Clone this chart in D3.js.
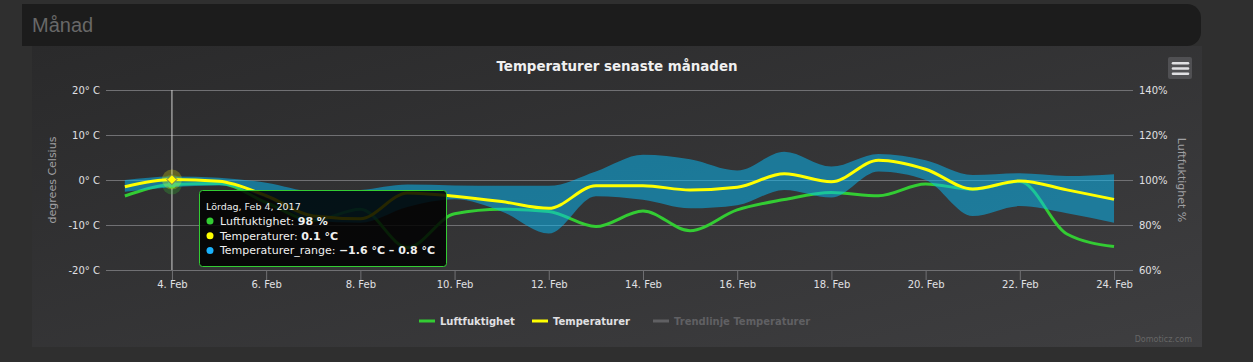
<!DOCTYPE html>
<html>
<head>
<meta charset="utf-8">
<script src="https://cdn.jsdelivr.net/npm/d3@7"></script>
<style>
  body { margin: 0; background: #2f2f2f; }
  svg { display: block; }
</style>
</head>
<body>
<div id="chart"></div>
<script>
// daily values, 3 Feb - 24 Feb 2017
const dates = ["2017-02-03", "2017-02-04", "2017-02-05", "2017-02-06", "2017-02-07", "2017-02-08",
  "2017-02-09", "2017-02-10", "2017-02-11", "2017-02-12", "2017-02-13", "2017-02-14", "2017-02-15",
  "2017-02-16", "2017-02-17", "2017-02-18", "2017-02-19", "2017-02-20", "2017-02-21", "2017-02-22",
  "2017-02-23", "2017-02-24"];
const humidity = [92.9, 98, 98.5, 90, 82, 87, 70, 85, 87, 86, 79.3, 86.2, 77.5, 86.7, 91.3, 94.4,
  93.0, 98.2, 95.9, 99.3, 76, 70.4];
const temperature = [-1.5, 0.1, -0.3, -3.5, -8.0, -8.6, -2.9, -3.6, -4.8, -6.3, -1.3, -1.3, -2.2,
  -1.6, 1.4, -0.4, 4.4, 2.4, -2.0, -0.2, -2.2, -4.3];
const tempLow = [-2.6, -1.6, -1.2, -4.0, -9.0, -9.5, -6.0, -4.3, -7.0, -11.9, -3.6, -4.4, -6.3,
  -5.6, -2.2, -3.9, 1.9, 0.0, -8.0, -5.8, -7.4, -9.5];
const tempHigh = [0.0, 0.8, 0.5, -0.6, -2.5, -2.2, -1.0, -1.2, -1.3, -1.3, 1.9, 5.6, 4.6,
  2.1, 6.3, 3.0, 5.8, 4.4, 1.1, 1.5, 0.9, 1.3];

const tickDates = ["2017-02-04", "2017-02-06", "2017-02-08", "2017-02-10", "2017-02-12", "2017-02-14",
  "2017-02-16", "2017-02-18", "2017-02-20", "2017-02-22", "2017-02-24"];
const tempTicks = [-20, -10, 0, 10, 20];
const humTicks = [60, 80, 100, 120, 140];
const weekdays = ["Söndag", "Måndag", "Tisdag", "Onsdag", "Torsdag", "Fredag", "Lördag"];
const hoverIndex = 1;

const colors = { hum: "#33cc33", temp: "#ffff00", range: "rgba(3,190,252,0.5)", rangeDot: "#1ab2fc" };
const font = "'DejaVu Sans', Verdana, sans-serif";

function fmtTemp(v) {
    return String(v).replace("-", "\u2212") + " °C";
}

function renderChart(containerId) {
    const width = 1253, height = 362;
    const plot = { left: 106, right: 1133, top: 90, bottom: 270 };
    const parse = d3.timeParse("%Y-%m-%d");
    const xs = dates.map(parse);

    const svg = d3.select("#" + containerId).append("svg")
        .attr("width", width)
        .attr("height", height);

    const grad = svg.append("defs").append("linearGradient")
        .attr("id", "bg").attr("x1", 0).attr("y1", 0).attr("x2", 1).attr("y2", 1);
    grad.append("stop").attr("offset", 0).attr("stop-color", "#2a2a2b");
    grad.append("stop").attr("offset", 1).attr("stop-color", "#3e3e40");

    // page header + chart panel
    svg.append("rect").attr("width", width).attr("height", height).attr("fill", "#2f2f2f");
    svg.append("path")
        .attr("d", "M22,4 H1187 A14,14 0 0 1 1201,18 V32 A14,14 0 0 1 1187,46 H22 Z")
        .attr("fill", "#1c1c1c");
    svg.append("text").attr("x", 32).attr("y", 32).text("Månad")
        .attr("fill", "#686868").style("font", "20px 'Liberation Sans', Arial, sans-serif");
    svg.append("rect").attr("x", 32).attr("y", 46).attr("width", 1170).attr("height", 301)
        .attr("fill", "url(#bg)");

    svg.append("text").attr("x", 617).attr("y", 71).attr("text-anchor", "middle")
        .text("Temperaturer senaste månaden")
        .attr("fill", "#F0F0F0")
        .style("font", "bold 13.4px " + font);

    // context menu button
    svg.append("rect").attr("x", 1168).attr("y", 57).attr("width", 24).attr("height", 22)
        .attr("rx", 2).attr("fill", "#505053");
    [63.3, 68.5, 73.7].forEach(y => {
        svg.append("line").attr("x1", 1173).attr("x2", 1188).attr("y1", y).attr("y2", y)
            .attr("stroke", "#E0E0E3").attr("stroke-width", 2.6).attr("stroke-linecap", "round");
    });

    const x = d3.scaleTime()
        .domain([new Date(2017, 1, 2, 14, 24), new Date(2017, 1, 24, 9, 40)])
        .range([plot.left, plot.right]);
    const yT = d3.scaleLinear().domain([-20, 20]).range([plot.bottom, plot.top]);
    const yH = d3.scaleLinear().domain([60, 140]).range([plot.bottom, plot.top]);

    const gy = svg.append("g")
        .attr("transform", `translate(${plot.left},0)`)
        .call(d3.axisLeft(yT).tickValues(tempTicks).tickSize(-(plot.right - plot.left))
            .tickPadding(6).tickFormat(d => d + "° C"));
    gy.select(".domain").remove();
    gy.selectAll("line").attr("stroke", "#707073");
    gy.selectAll("text").attr("fill", "#E0E0E3").style("font", "10px " + font);

    const gyr = svg.append("g")
        .attr("transform", `translate(${plot.right},0)`)
        .call(d3.axisRight(yH).tickValues(humTicks).tickSize(0).tickPadding(6).tickFormat(d => d + "%"));
    gyr.select(".domain").remove();
    gyr.selectAll("text").attr("fill", "#E0E0E3").style("font", "10px " + font);

    const gx = svg.append("g")
        .attr("transform", `translate(0,${plot.bottom})`)
        .call(d3.axisBottom(x).tickValues(tickDates.map(parse)).tickSize(10).tickPadding(1)
            .tickFormat(d3.timeFormat("%-d. %b")));
    gx.select(".domain").remove();
    gx.selectAll("line").attr("stroke", "#707073");
    gx.selectAll("text").attr("fill", "#E0E0E3").style("font", "10px " + font);

    svg.append("text")
        .attr("transform", "translate(56,180) rotate(-90)")
        .attr("text-anchor", "middle")
        .text("degrees Celsius")
        .attr("fill", "#A0A0A3").style("font", "11px " + font);
    svg.append("text")
        .attr("transform", "translate(1178,180) rotate(90)")
        .attr("text-anchor", "middle")
        .text("Luftfuktighet %")
        .attr("fill", "#A0A0A3").style("font", "11px " + font);

    // crosshair
    const hx = x(xs[hoverIndex]);
    svg.append("line").attr("x1", hx).attr("x2", hx).attr("y1", plot.top).attr("y2", plot.bottom)
        .attr("stroke", "#d0d0d0").attr("stroke-width", 1);

    const line = d3.line().x((d, i) => x(xs[i])).curve(d3.curveMonotoneX);

    svg.append("path")
        .attr("d", line.y(d => yH(d))(humidity))
        .attr("fill", "none").attr("stroke", colors.hum).attr("stroke-width", 3);
    svg.append("circle").attr("cx", hx).attr("cy", yH(humidity[hoverIndex])).attr("r", 10)
        .attr("fill", colors.hum).attr("opacity", 0.25);
    svg.append("circle").attr("cx", hx).attr("cy", yH(humidity[hoverIndex])).attr("r", 4)
        .attr("fill", colors.hum);

    const band = d3.area()
        .x((d, i) => x(xs[i]))
        .y0((d, i) => yT(tempLow[i]))
        .y1((d, i) => yT(tempHigh[i]))
        .curve(d3.curveMonotoneX);
    svg.append("path").attr("d", band(tempLow)).attr("fill", colors.range);

    svg.append("path")
        .attr("d", line.y(d => yT(d))(temperature))
        .attr("fill", "none").attr("stroke", colors.temp).attr("stroke-width", 3);
    const ty = yT(temperature[hoverIndex]);
    svg.append("circle").attr("cx", hx).attr("cy", ty).attr("r", 10)
        .attr("fill", colors.temp).attr("opacity", 0.25);
    svg.append("path")
        .attr("d", `M${hx},${ty - 5} L${hx + 5},${ty} L${hx},${ty + 5} L${hx - 5},${ty} Z`)
        .attr("fill", colors.temp).attr("stroke", "#666").attr("stroke-width", 1);

    // tooltip
    const tip = svg.append("g").attr("transform", "translate(199.5,190.5)");
    tip.append("rect").attr("width", 247).attr("height", 76).attr("rx", 3)
        .attr("fill", "rgba(0,0,0,0.85)").attr("stroke", colors.hum).attr("stroke-width", 1);
    const d0 = xs[hoverIndex];
    tip.append("text").attr("x", 6.5).attr("y", 19)
        .text(weekdays[d0.getDay()] + ", " + d3.timeFormat("%b %-d, %Y")(d0))
        .attr("fill", "#F0F0F0").style("font", "9.5px " + font);
    const rows = [
        [colors.hum, "Luftfuktighet: ", humidity[hoverIndex] + " %"],
        [colors.temp, "Temperaturer: ", fmtTemp(temperature[hoverIndex])],
        [colors.rangeDot, "Temperaturer_range: ", fmtTemp(tempLow[hoverIndex]) + " – " + fmtTemp(tempHigh[hoverIndex])]
    ];
    rows.forEach((r, i) => {
        const by = 34.5 + i * 14.7;
        tip.append("circle").attr("cx", 10.5).attr("cy", by - 4).attr("r", 3.5).attr("fill", r[0]);
        const t = tip.append("text").attr("x", 20.5).attr("y", by)
            .attr("fill", "#F0F0F0").style("font", "11px " + font);
        t.append("tspan").text(r[1]);
        t.append("tspan").attr("font-weight", "bold").text(r[2]);
    });

    // legend
    const legend = [
        { name: "Luftfuktighet", color: colors.hum, text: "#E0E0E3", x: 419 },
        { name: "Temperaturer", color: colors.temp, text: "#E0E0E3", x: 532 },
        { name: "Trendlinje Temperaturer", color: "#606063", text: "#606063", x: 653 }
    ];
    const lg = svg.append("g").selectAll("g").data(legend).enter().append("g")
        .attr("transform", d => `translate(${d.x},321)`);
    lg.append("line").attr("x1", 0).attr("x2", 16).attr("stroke", d => d.color).attr("stroke-width", 3);
    lg.append("text").attr("x", 21).attr("y", 4).text(d => d.name)
        .attr("fill", d => d.text).style("font", "bold 10px " + font);

    svg.append("text").attr("x", 1192).attr("y", 342).attr("text-anchor", "end")
        .text("Domoticz.com").attr("fill", "#666").style("font", "8px " + font);
}

renderChart("chart");
</script>
</body>
</html>
